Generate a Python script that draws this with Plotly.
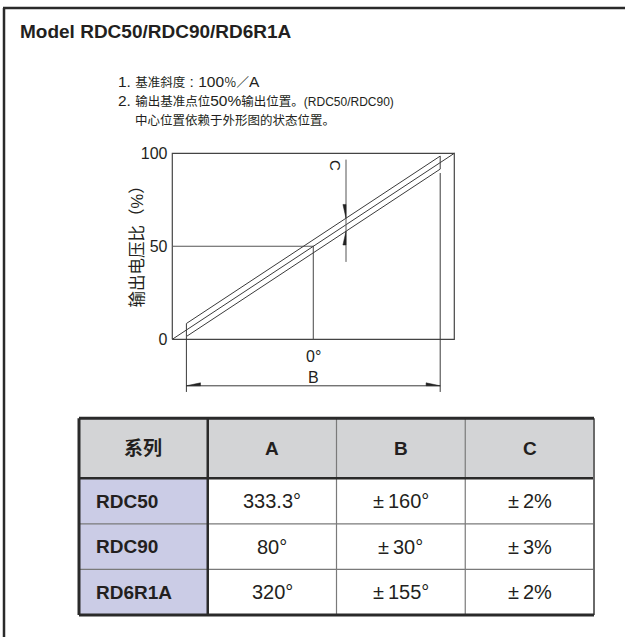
import plotly.graph_objects as go

W, H = 625, 637

# ---------------- data ----------------
title_text = "Model RDC50/RDC90/RD6R1A"
note_1_parts = [("1. ", "lat"), ("基准斜度", "cjk"), (" : 100", "lat"), ("％／", "cjk"), ("A", "lat")]
note_2_parts = [("2. ", "lat"), ("输出基准点位", "cjk"), ("50%", "lat"), ("输出位置。", "cjk"), ("(RDC50/RDC90)", "sub")]
note_3_parts = [("中心位置依赖于外形图的状态位置。", "cjk")]
y_title = "输出电压比（%）"

y_ticks = [0, 50, 100]
y_ticktext = ["0", "50", "100"]

# schematic: output ratio (%) vs. angle (expressed as % of A, centred on 0°)
ideal_x = [-50, 50]
ideal_y = [0, 100]
ref_point_x = 0          # 0° position
ref_point_y = 50         # 50 % output
band_x = 45              # half width of B range (schematic)
band_c = 3.5             # +- C tolerance (schematic)
c_probe_x = 11.6         # where the C dimension is shown
dim_b_y = -25            # level of the B dimension line
center_label = "0°"
b_label = "B"
c_label = "C"

table_header = ["系列", "A", "B", "C"]
series = ["RDC50", "RDC90", "RD6R1A"]
col_A = ["333.3°", "80°", "320°"]
col_B = ["±160°", "±30°", "±155°"]
col_C = ["±2%", "±3%", "±2%"]

# ---------------- styles ----------------
LAT = "Liberation Sans, Arial, Noto Sans CJK SC, sans-serif"
INK = "#231f20"
LINE = "#3a3a3a"
NOTE_SIZES = {"lat": 15.5, "cjk": 12.5, "sub": 12}


def px(x):
    return x / W


def py(y):
    return 1 - y / H


def ideal(x):
    return ref_point_y + (x - ref_point_x) * (ideal_y[1] - ideal_y[0]) / (ideal_x[1] - ideal_x[0])


def rich(parts):
    return "".join("<span style='font-size:%spx'>%s</span>" % (NOTE_SIZES[k], t) for t, k in parts)


def spaced(v):
    return v.replace("±", "±\u2009")


fig = go.Figure()


def seg(xs, ys, color=LINE, width=1.0, xa="x", ya="y", fill=None):
    fig.add_trace(go.Scatter(
        x=xs, y=ys, mode="lines", xaxis=xa, yaxis=ya,
        line=dict(color=color, width=width),
        fill=fill, fillcolor=color if fill else None,
        hoverinfo="skip", showlegend=False))


# plot box
seg([ideal_x[0], ideal_x[1], ideal_x[1], ideal_x[0], ideal_x[0]],
    [y_ticks[0], y_ticks[0], y_ticks[-1], y_ticks[-1], y_ticks[0]], color="#444", width=1.2)
# 50% reference
seg([ideal_x[0], ref_point_x, ref_point_x], [ref_point_y, ref_point_y, y_ticks[0]], color="#555", width=1.1)
# ideal line
seg(ideal_x, ideal_y, width=1.0)
# tolerance band
bx = [-band_x, -band_x, band_x, band_x, -band_x]
by = [ideal(-band_x) - band_c, ideal(-band_x) + band_c, ideal(band_x) + band_c,
      ideal(band_x) - band_c, ideal(-band_x) - band_c]
seg(bx, by, width=1.0)

# C dimension
c_top = ideal(c_probe_x) + band_c
c_bot = ideal(c_probe_x) - band_c
seg([c_probe_x, c_probe_x], [c_bot - 16.5, c_top + 31.5], color="#555", width=1.0)
arr_len_y = 7.4
arr_w_x = 1.1
seg([c_probe_x, c_probe_x, c_probe_x - arr_w_x, c_probe_x],
    [c_top, c_top + arr_len_y, c_top + arr_len_y, c_top], color="#222", width=0.5, fill="toself")
seg([c_probe_x, c_probe_x, c_probe_x - arr_w_x, c_probe_x],
    [c_bot, c_bot - arr_len_y, c_bot - arr_len_y, c_bot], color="#222", width=0.5, fill="toself")

# B dimension
ext_bottom = dim_b_y - 3.3
seg([-band_x, -band_x], [ideal(-band_x) - band_c, ext_bottom], width=1.0)
seg([band_x, band_x], [ideal(band_x) - band_c - 2.1, ext_bottom], width=1.0)
seg([-band_x, band_x], [dim_b_y, dim_b_y], width=1.0)
arr_len_x = 5
arr_h_y = 1.6
seg([-band_x, -band_x + arr_len_x, -band_x + arr_len_x, -band_x],
    [dim_b_y, dim_b_y, dim_b_y + arr_h_y, dim_b_y], color="#222", width=0.5, fill="toself")
seg([band_x, band_x - arr_len_x, band_x - arr_len_x, band_x],
    [dim_b_y, dim_b_y, dim_b_y + arr_h_y, dim_b_y], color="#222", width=0.5, fill="toself")

annotations = []
annotations.append(dict(x=ref_point_x, y=-9, xref="x", yref="y", text=center_label, showarrow=False,
                        xanchor="center", yanchor="middle",
                        font=dict(family=LAT, size=16, color=INK)))
annotations.append(dict(x=ref_point_x, y=-20.3, xref="x", yref="y", text=b_label, showarrow=False,
                        xanchor="center", yanchor="middle",
                        font=dict(family=LAT, size=16, color=INK)))
annotations.append(dict(x=c_probe_x - 3.8, y=93.5, xref="x", yref="y", text=c_label, showarrow=False,
                        xanchor="center", yanchor="middle",
                        textangle=90, font=dict(family=LAT, size=15, color=INK)))

# ---------------- chart axes geometry ----------------
x_rng = [ideal_x[0] - 1, ideal_x[1] + 1]
y_rng = [-28.5, 101]
box_l, box_r, box_t, box_b = 172.3, 454.3, 153.3, 339.3
sx = (box_r - box_l) / (ideal_x[1] - ideal_x[0])
sy = (box_b - box_t) / (y_ticks[-1] - y_ticks[0])
dom_x = [px(box_l - (ideal_x[0] - x_rng[0]) * sx), px(box_r + (x_rng[1] - ideal_x[1]) * sx)]
dom_y = [py(box_b + (y_ticks[0] - y_rng[0]) * sy), py(box_t - (y_rng[1] - y_ticks[-1]) * sy)]

# ---------------- table ----------------
t_l, t_r, t_t, t_b = 79, 594, 418.3, 615
hdr_px = 60
row_px = (t_b - t_t - hdr_px) / len(series)
hdr = hdr_px / row_px
col_px = (t_r - t_l) / len(table_header)
pad = 3
n_rows = len(series)
tx_rng = [-pad / col_px, len(table_header) + pad / col_px]
ty_rng = [-pad / row_px, n_rows + hdr + pad / row_px]
tdom_x = [px(t_l - pad), px(t_r + pad)]
tdom_y = [py(t_b + pad), py(t_t - pad)]

shapes = []
HDR_FILL = "#d3d4d6"
COL_FILL = "#cbcce6"


def rect(x0, y0, x1, y1, fill):
    shapes.append(dict(type="rect", xref="x2", yref="y2", x0=x0, y0=y0, x1=x1, y1=y1,
                       fillcolor=fill, line=dict(width=0), layer="below"))


def tline(x0, y0, x1, y1, color, width):
    shapes.append(dict(type="line", xref="x2", yref="y2", x0=x0, y0=y0, x1=x1, y1=y1,
                       line=dict(color=color, width=width)))


ncol = len(table_header)
top = n_rows + hdr
rect(0, n_rows, ncol, top, HDR_FILL)
rect(0, 0, 1, n_rows, COL_FILL)
# inner lines
for r in range(1, n_rows):
    tline(0, r, ncol, r, "#7a7a7a", 1.2)
for c in range(2, ncol):
    tline(c, 0, c, top, "#7a7a7a", 1.2)
tline(1, 0, 1, top, "#2a2a2a", 2.5)
tline(0, n_rows, ncol, n_rows, "#2a2a2a", 2.5)
# outer border
tline(ncol, 0, ncol, top, "#6a6a6a", 2)
tline(0, top, ncol, top, "#2a2a2a", 3)
tline(0, 0, ncol, 0, "#2a2a2a", 3)
tline(0, 0, 0, top, "#2a2a2a", 3)

for c, h in enumerate(table_header):
    annotations.append(dict(x=c + 0.5, y=n_rows + hdr / 2, xref="x2", yref="y2", text="<b>%s</b>" % h,
                            xanchor="center", yanchor="middle",
                            showarrow=False, font=dict(family=LAT, size=19, color=INK)))
for r, name in enumerate(series):
    yc = n_rows - r - 0.5
    annotations.append(dict(x=0.115, y=yc, xref="x2", yref="y2", text="<b>%s</b>" % name,
                            xanchor="left", yanchor="middle",
                            showarrow=False, font=dict(family=LAT, size=19, color=INK)))
    for c, col in enumerate([col_A, col_B, col_C]):
        annotations.append(dict(x=c + 1.5, y=yc, xref="x2", yref="y2", text=spaced(col[r]),
                                xanchor="center", yanchor="middle",
                                showarrow=False, font=dict(family=LAT, size=20, color=INK)))


# ---------------- page texts ----------------
def page_text(x, y, text, size, xanchor="left", angle=0):
    annotations.append(dict(x=px(x), y=py(y), xref="paper", yref="paper", xanchor=xanchor, yanchor="middle",
                            text=text, textangle=angle, showarrow=False,
                            font=dict(family=LAT, size=size, color=INK)))


page_text(18, 32, "<b>%s</b>" % title_text, 19)
page_text(116, 81, rich(note_1_parts), 13)
page_text(116, 100.5, rich(note_2_parts), 13)
page_text(133, 120.5, rich(note_3_parts), 13)
page_text(136.5, 243, y_title, 16.5, xanchor="center", angle=-90)

# outer frame
shapes.append(dict(type="line", xref="paper", yref="paper", x0=px(4), y0=py(8), x1=px(4), y1=py(H + 2),
                   line=dict(color="#2a2a2a", width=2.5)))
shapes.append(dict(type="line", xref="paper", yref="paper", x0=px(3), y0=py(8), x1=px(W + 2), y1=py(8),
                   line=dict(color="#2a2a2a", width=2.5)))

fig.update_layout(
    template="none",
    width=W, height=H, margin=dict(l=0, r=0, t=0, b=0, pad=0, autoexpand=False),
    paper_bgcolor="white", plot_bgcolor="rgba(0,0,0,0)",
    showlegend=False,
    xaxis=dict(domain=dom_x, range=x_rng, visible=False, fixedrange=True, automargin=False),
    yaxis=dict(domain=dom_y, range=y_rng, tickvals=y_ticks, ticktext=y_ticktext, showgrid=False,
               zeroline=False, showline=False, ticks="", ticklabelstandoff=1, automargin=False,
               tickfont=dict(family=LAT, size=16, color=INK), fixedrange=True),
    xaxis2=dict(domain=tdom_x, range=tx_rng, visible=False, anchor="y2", fixedrange=True, automargin=False),
    yaxis2=dict(domain=tdom_y, range=ty_rng, visible=False, anchor="x2", fixedrange=True, automargin=False),
    shapes=shapes, annotations=annotations,
)

fig.write_html("out.html", config={"displayModeBar": False},
               post_script="document.body.style.margin='0px';document.body.style.overflow='hidden';")
